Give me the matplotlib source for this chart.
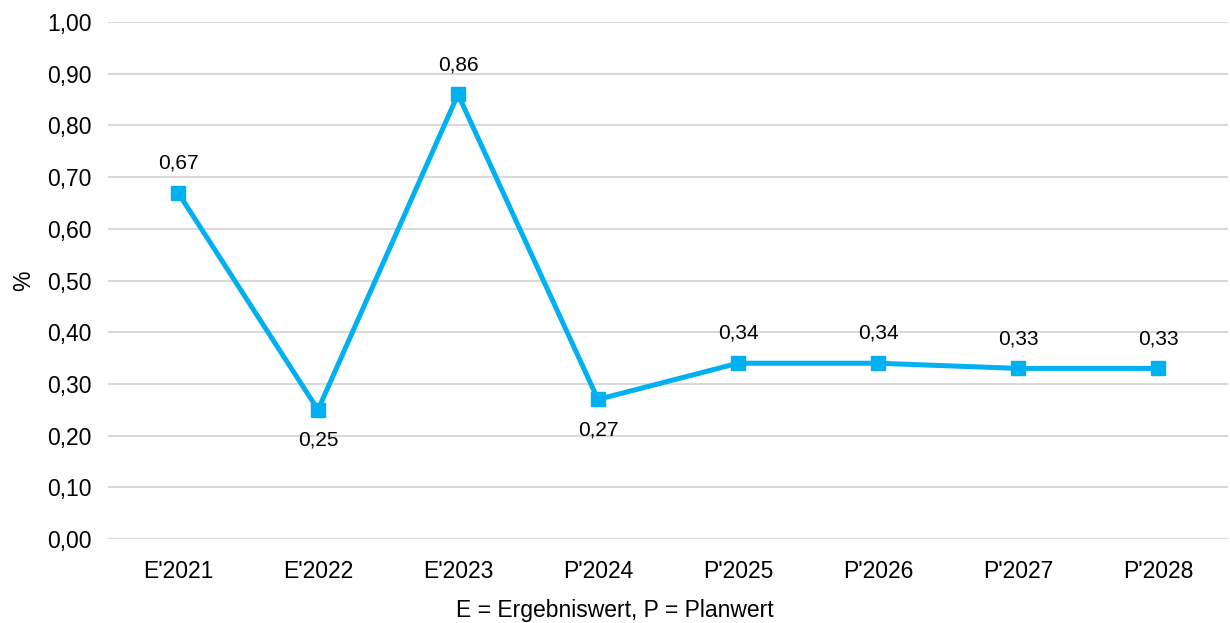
import matplotlib.pyplot as plt

plt.rcParams['font.family'] = ['Liberation Sans', 'DejaVu Sans']

categories = ["E'2021", "E'2022", "E'2023", "P'2024", "P'2025", "P'2026", "P'2027", "P'2028"]
values = [0.67, 0.25, 0.86, 0.27, 0.34, 0.34, 0.33, 0.33]
label_below = [False, True, False, True, False, False, False, False]

line_color = '#00B0F0'
grid_color = '#D9D9D9'

fig = plt.figure(figsize=(12.3, 6.23), dpi=100)
ax = fig.add_axes([0.0878, 0.1348, 0.9106, 0.8299])

x = list(range(len(categories)))
ax.plot(x, values, color=line_color, linewidth=3.6, marker='s', markersize=10,
        solid_joinstyle='miter', zorder=3)

# Datenbeschriftungen
for xi, v, below in zip(x, values, label_below):
    ax.annotate('{:.2f}'.format(v).replace('.', ','), (xi, v),
                xytext=(0, -22 if below else 21.5), textcoords='offset points',
                ha='center', va='center', fontsize=15, color='#000000')

ax.set_xlim(-0.5, len(categories) - 0.5)
ax.set_ylim(0, 1.0)
ax.set_yticks([i / 10 for i in range(11)])
ax.set_yticklabels(['{:.2f}'.format(i / 10).replace('.', ',') for i in range(11)])
ax.set_xticks(x)
ax.set_xticklabels(categories)
ax.tick_params(axis='both', length=0, labelsize=16.5, colors='#000000')
ax.tick_params(axis='x', pad=15)
ax.tick_params(axis='y', pad=12)

ax.grid(axis='y', color=grid_color, linewidth=1.5)
ax.set_axisbelow(True)
for s in ax.spines.values():
    s.set_visible(False)

fig.text(0.0195, 0.55, '%', rotation=90, ha='center', va='center', fontsize=16.5)
fig.text(0.5, 0.0193, 'E = Ergebniswert, P = Planwert', ha='center', va='center', fontsize=16.5)

fig.savefig('out.png', dpi=100)
